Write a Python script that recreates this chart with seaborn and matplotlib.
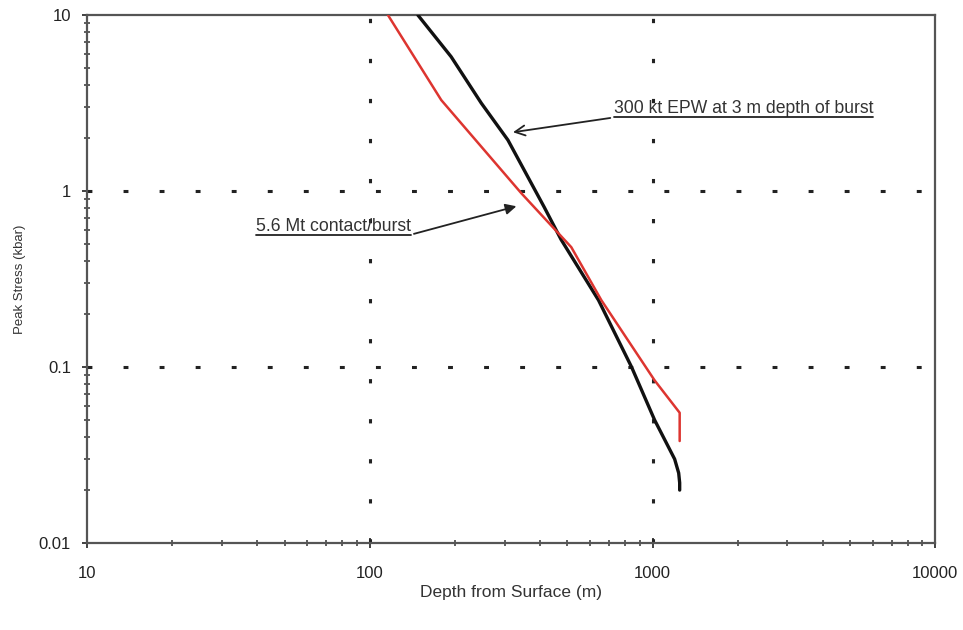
import numpy as np
import pandas as pd
import seaborn as sns
import matplotlib.pyplot as plt
from matplotlib.lines import Line2D
from matplotlib.text import Text

# 300 kt EPW at 3 m depth of burst (black)
epw_depth = [148, 194, 248, 308, 414, 475, 644, 843, 1017, 1197, 1237, 1247, 1247]
epw_stress = [10.0, 5.8, 3.16, 1.95, 0.81, 0.53, 0.24, 0.10, 0.050, 0.030, 0.025, 0.022, 0.020]

# 5.6 Mt contact burst (red)
mt_depth = [116, 179, 343, 516, 659, 1017, 1247, 1247]
mt_stress = [10.0, 3.29, 0.975, 0.48, 0.24, 0.084, 0.055, 0.038]

x_ticks = [10, 100, 1000, 10000]
x_ticklabels = ['10', '100', '1000', '10000']
y_ticks = [0.01, 0.1, 1, 10]
y_ticklabels = ['0.01', '0.1', '1', '10']

df = pd.concat([
    pd.DataFrame({'depth': epw_depth, 'stress': epw_stress, 'series': 'epw'}),
    pd.DataFrame({'depth': mt_depth, 'stress': mt_stress, 'series': 'mt'}),
])

sns.set_style('white')
plt.rcParams['font.family'] = ['Liberation Sans', 'DejaVu Sans']

fig = plt.figure(figsize=(9.63, 6.3), dpi=100)
ax = fig.add_axes([0.0903, 0.138, 0.881, 0.838])

ax.set_xscale('log')
ax.set_yscale('log')
ax.set_xlim(10, 10000)
ax.set_ylim(0.01, 10)

# dotted grid
for xv in [100, 1000]:
    ax.axvline(xv, color='#222222', lw=2.2, ls=(0, (1.4, 11.7)), zorder=1)
for yv in [0.1, 1]:
    ax.axhline(yv, color='#222222', lw=2.2, ls=(0, (1.6, 10.2)), zorder=1)

sns.lineplot(data=df, x='depth', y='stress', hue='series', ax=ax,
             palette={'epw': '#111111', 'mt': '#dd3530'}, sort=False,
             estimator=None, legend=False, zorder=3)
ax.lines[-2].set_linewidth(2.4)
ax.lines[-1].set_linewidth(1.8)

ax.set_xticks(x_ticks)
ax.set_xticklabels(x_ticklabels)
ax.set_yticks(y_ticks)
ax.set_yticklabels(y_ticklabels)
ax.tick_params(axis='both', which='both', bottom=True, left=True, top=False, right=False)
ax.tick_params(axis='both', which='major', direction='inout', length=7, width=1.3,
               labelsize=12, color='#333333', labelcolor='#222222')
ax.tick_params(axis='x', which='major', pad=13)
ax.tick_params(axis='y', which='major', pad=8)
ax.tick_params(axis='both', which='minor', direction='inout', length=5, width=1.1,
               color='#333333')

for s in ax.spines.values():
    s.set_color('#555555')
    s.set_linewidth(1.6)

ax.set_xlabel('Depth from Surface (m)', fontsize=12.5, color='#333333', labelpad=3)
ax.set_ylabel('Peak Stress (kbar)', fontsize=9.5, color='#333333', labelpad=9)

t1 = ax.annotate('300 kt EPW at 3 m depth of burst', xy=(321, 2.16), xytext=(728, 2.62),
                 fontsize=12.7, color='#333333', ha='left', va='bottom',
                 arrowprops=dict(arrowstyle='->', color='#222222', lw=1.3,
                                 relpos=(0, 0), shrinkA=0, shrinkB=0,
                                 mutation_scale=18))
t2 = ax.annotate('5.6 Mt contact/burst', xy=(330, 0.82), xytext=(39.5, 0.565),
                 fontsize=12.7, color='#333333', ha='left', va='bottom',
                 arrowprops=dict(arrowstyle='-|>', color='#222222', lw=1.3,
                                 relpos=(1, 0), shrinkA=0, shrinkB=0,
                                 mutation_scale=16))

# underline the annotation texts (text box only, without the arrow)
fig.canvas.draw()
inv = fig.transFigure.inverted()
for t in (t1, t2):
    bb = Text.get_window_extent(t).transformed(inv)
    fig.add_artist(Line2D([bb.x0, bb.x1], [bb.y0, bb.y0], color='#222222', lw=1.3))

plt.savefig('out.png', dpi=100)
